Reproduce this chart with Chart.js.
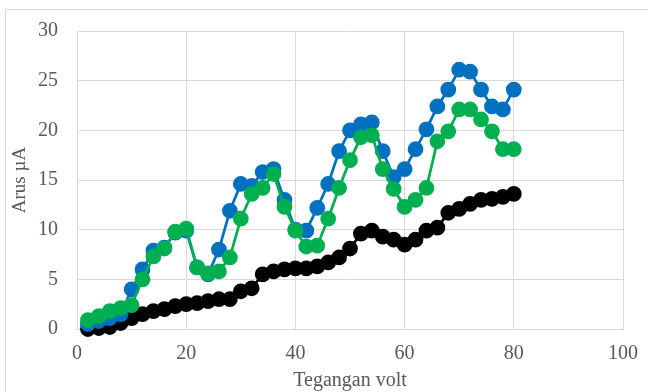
<!DOCTYPE html>
<html>
<head>
<meta charset="utf-8">
<script src="https://cdn.jsdelivr.net/npm/chart.js@4"></script>
<style>
  html, body { margin: 0; padding: 0; background: #fff; }
  #chart { display: block; }
</style>
</head>
<body>
<canvas id="chart" width="648" height="392"></canvas>
<script>
// tegangan (volt), every 2 V from 2 to 80
const voltage = [2, 4, 6, 8, 10, 12, 14, 16, 18, 20, 22, 24, 26, 28, 30, 32, 34, 36, 38, 40,
  42, 44, 46, 48, 50, 52, 54, 56, 58, 60, 62, 64, 66, 68, 70, 72, 74, 76, 78, 80];

// arus (uA) per series
const blueCurrent = [0.5, 0.8, 1.1, 1.5, 4.0, 6.0, 7.9, 8.2, 9.7, 9.9, 6.2, 5.5, 8.0, 11.9, 14.6, 14.4, 15.8, 16.1, 13.0, 10.0,
  9.9, 12.2, 14.6, 17.9, 20.0, 20.6, 20.8, 17.9, 15.3, 16.1, 18.1, 20.1, 22.4, 24.1, 26.1, 25.9, 24.1, 22.4, 22.1, 24.1];
const greenCurrent = [0.9, 1.3, 1.8, 2.1, 2.4, 5.0, 7.3, 8.1, 9.8, 10.1, 6.2, 5.6, 5.8, 7.2, 11.1, 13.6, 14.2, 15.6, 12.3, 9.9,
  8.3, 8.4, 11.1, 14.2, 17.0, 19.3, 19.5, 16.1, 14.1, 12.3, 13.0, 14.2, 18.9, 19.9, 22.1, 22.1, 21.1, 19.9, 18.1, 18.1];
const blackCurrent = [0.0, 0.1, 0.2, 0.6, 1.1, 1.5, 1.8, 2.0, 2.3, 2.5, 2.6, 2.8, 3.0, 3.0, 3.8, 4.1, 5.5, 5.8, 6.0, 6.1,
  6.1, 6.3, 6.7, 7.2, 8.1, 9.6, 9.9, 9.3, 9.0, 8.5, 9.0, 9.9, 10.2, 11.7, 12.1, 12.6, 13.0, 13.1, 13.3, 13.6];

const xTicks = [0, 20, 40, 60, 80, 100];
const yTicks = [0, 5, 10, 15, 20, 25, 30];

const gridColor = "#d9d9d9";
const textColor = "#595959";
const serif = "'Liberation Serif', 'Times New Roman', serif";

function toPoints(values) {
  return voltage.map((v, i) => ({ x: v, y: values[i] }));
}

// order: lower number is drawn on top
function series(label, values, color, order) {
  return {
    label: label,
    data: toPoints(values),
    order: order,
    borderColor: color,
    backgroundColor: color,
    pointBackgroundColor: color,
    pointBorderColor: color,
    pointRadius: 6.5,
    pointHoverRadius: 6.5,
    borderWidth: 2.75,
    tension: 0,
    clip: false,
  };
}

// light frame round the whole chart (top and left edges show)
const outerFrame = {
  id: "outerFrame",
  beforeDraw(chart) {
    const ctx = chart.ctx;
    ctx.save();
    ctx.strokeStyle = gridColor;
    ctx.lineWidth = 1;
    ctx.strokeRect(5.5, 9.5, 700, 500);
    ctx.restore();
  },
};

new Chart(document.getElementById("chart"), {
  type: "line",
  data: {
    datasets: [
      series("Biru", blueCurrent, "#0070c0", 1),
      series("Hijau", greenCurrent, "#00b050", 0),
      series("Hitam", blackCurrent, "#000000", 2),
    ],
  },
  options: {
    responsive: false,
    animation: false,
    layout: { padding: { top: 29, right: 25, left: 0, bottom: 0 } },
    plugins: {
      legend: { display: false },
      tooltip: { enabled: false },
    },
    scales: {
      x: {
        type: "linear",
        min: 0,
        max: 100,
        afterBuildTicks: (scale) => { scale.ticks = xTicks.map((v) => ({ value: v })); },
        afterFit: (scale) => {
          scale.height = 63;
          scale.paddingLeft = 0;
          scale.paddingRight = 0;
        },
        grid: { color: gridColor, drawTicks: false },
        border: { color: gridColor },
        ticks: { color: textColor, padding: 13, font: { family: serif, size: 20 } },
        title: {
          display: true,
          text: "Tegangan volt",
          color: textColor,
          padding: { top: 0, bottom: 0 },
          font: { family: serif, size: 20, lineHeight: 1.1 },
        },
      },
      y: {
        min: 0,
        max: 30,
        afterBuildTicks: (scale) => { scale.ticks = yTicks.map((v) => ({ value: v })); },
        afterFit: (scale) => { scale.width = 77; },
        grid: { color: gridColor, drawTicks: false },
        border: { color: gridColor },
        ticks: { color: textColor, padding: 19, font: { family: serif, size: 20 } },
        title: {
          display: true,
          text: "Arus µA",
          color: textColor,
          padding: { top: 9, bottom: 0 },
          font: { family: serif, size: 19 },
        },
      },
    },
  },
  plugins: [outerFrame],
});
</script>
</body>
</html>
